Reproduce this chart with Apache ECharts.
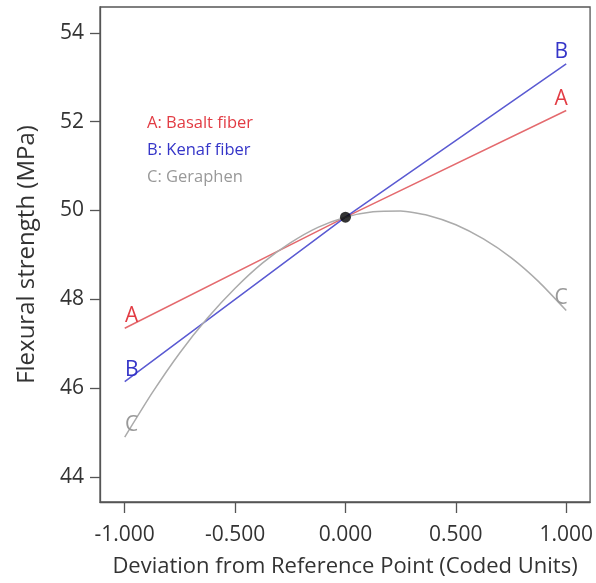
<!DOCTYPE html>
<html>
<head>
<meta charset="utf-8">
<script src="https://cdn.jsdelivr.net/npm/echarts@6/dist/echarts.min.js"></script>
<style>html,body{margin:0;padding:0;background:#fff}#c{width:596px;height:583px}</style>
</head>
<body>
<div id="c"></div>
<script>
// Coded deviation from the reference point
const xValues = [-1, -0.875, -0.75, -0.625, -0.5, -0.375, -0.25, -0.125, 0, 0.125, 0.25, 0.375, 0.5, 0.625, 0.75, 0.875, 1];
const xLineValues = [-1, 0, 1];
// Flexural strength (MPa)
const basaltFiber = [47.35, 49.85, 52.25];
const kenafFiber = [46.15, 49.85, 53.3];
const geraphen = [44.9, 45.9, 46.8, 47.58, 48.25, 48.82, 49.27, 49.62, 49.85, 49.97, 49.99, 49.89, 49.68, 49.36, 48.94, 48.4, 47.75];
const referencePoint = [0, 49.85];
const xTicks = [-1, -0.5, 0, 0.5, 1];
const yTicks = [44, 46, 48, 50, 52, 54];
const seriesNames = ['A: Basalt fiber', 'B: Kenaf fiber', 'C: Geraphen'];
const seriesLetters = ['A', 'B', 'C'];

const FONT = '"Open Sans", "Noto Sans", sans-serif';
const lineColors = ['#e46a6e', '#5a5ad2', '#ababab'];
const textColors = ['#e23c44', '#3535c8', '#999999'];

function pairs(xs, ys) { return xs.map((x, i) => [x, ys[i]]); }
function withEndLabels(points, idx) {
  return points.map((p, i) => {
    if (i === 0 || i === points.length - 1) {
      return {
        value: p,
        label: {
          show: true,
          formatter: seriesLetters[idx],
          position: 'top',
          distance: 1,
          offset: [i === 0 ? 7 : -5, 0],
          color: textColors[idx],
          fontSize: 21,
          fontFamily: FONT
        }
      };
    }
    return { value: p };
  });
}

const dataSets = [pairs(xLineValues, basaltFiber), pairs(xLineValues, kenafFiber), pairs(xValues, geraphen)];

const chart = echarts.init(document.getElementById('c'), null, { renderer: 'canvas' });
chart.setOption({
  animation: false,
  backgroundColor: '#fff',
  grid: { left: 100, right: 3, top: 7, bottom: 81, show: true, borderColor: '#555', borderWidth: 1.3, containLabel: false },
  legend: {
    orient: 'vertical',
    left: 142,
    top: 110,
    icon: 'none',
    itemWidth: 0,
    itemHeight: 14,
    itemGap: 10,
    selectedMode: false,
    data: seriesNames.map((n, i) => ({ name: n, textStyle: { color: textColors[i] } })),
    textStyle: { fontSize: 16.5, fontFamily: FONT, padding: [0, 0, 0, -5] }
  },
  xAxis: {
    type: 'value',
    min: -1.112,
    max: 1.108,
    name: 'Deviation from Reference Point (Coded Units)',
    nameLocation: 'middle',
    nameGap: 54,
    nameTextStyle: { fontSize: 22, color: '#333', fontFamily: FONT },
    splitLine: { show: false },
    axisLine: { show: true, onZero: false, lineStyle: { color: '#555', width: 1.3 } },
    axisTick: { show: true, customValues: xTicks, length: 11, lineStyle: { color: '#555', width: 1.3 } },
    axisLabel: { customValues: xTicks, formatter: v => v.toFixed(3), fontSize: 21, color: '#333', fontFamily: FONT, margin: 23 }
  },
  yAxis: {
    type: 'value',
    min: 43.44,
    max: 54.58,
    name: 'Flexural strength (MPa)',
    nameLocation: 'middle',
    nameGap: 61,
    nameTextStyle: { fontSize: 24, color: '#333', fontFamily: FONT },
    splitLine: { show: false },
    axisLine: { show: true, onZero: false, lineStyle: { color: '#555', width: 1.3 } },
    axisTick: { show: true, customValues: yTicks, length: 10, lineStyle: { color: '#555', width: 1.3 } },
    axisLabel: { customValues: yTicks, fontSize: 21, color: '#333', fontFamily: FONT, margin: 16 }
  },
  series: [
    ...dataSets.map((d, i) => ({
      name: seriesNames[i],
      type: 'line',
      data: withEndLabels(d, i),
      smooth: i === 2 ? 0.2 : false,
      showSymbol: true,
      symbol: 'circle',
      symbolSize: 1,
      itemStyle: { color: 'rgba(0,0,0,0)' },
      lineStyle: { color: lineColors[i], width: 1.5 },
      z: 2
    })),
    {
      name: 'reference',
      type: 'scatter',
      data: [referencePoint],
      symbolSize: 11,
      itemStyle: { color: '#000' },
      z: 5
    }
  ]
});
</script>
</body>
</html>
